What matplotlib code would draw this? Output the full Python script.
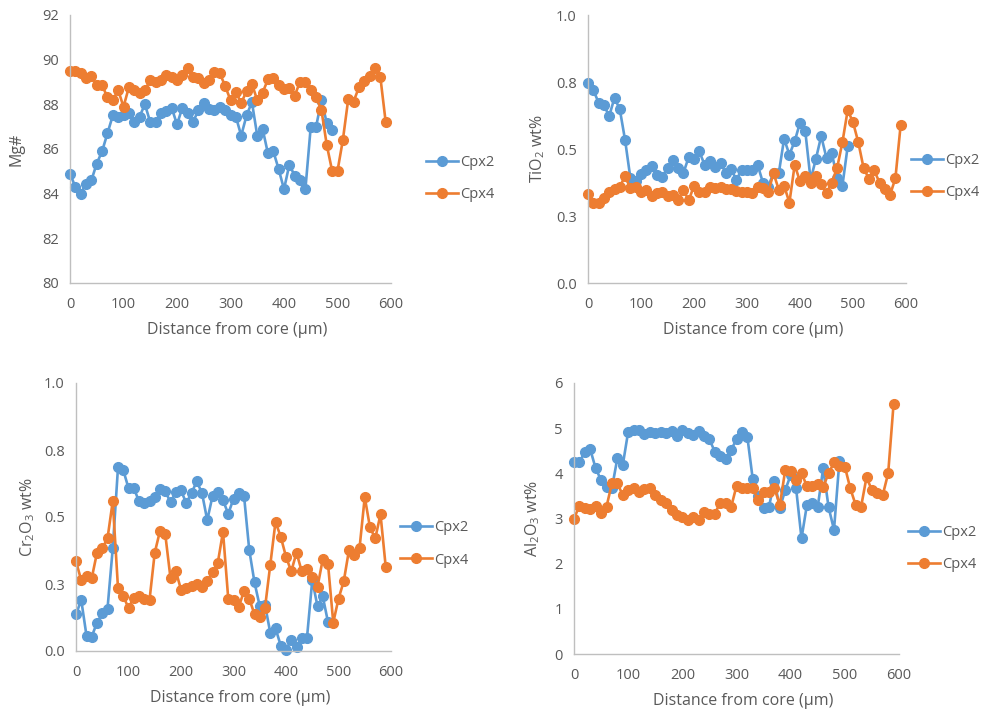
import numpy as np
import matplotlib
matplotlib.use("Agg")
import matplotlib.pyplot as plt

plt.rcParams['font.family'] = ['Open Sans', 'DejaVu Sans']
plt.rcParams['mathtext.fontset'] = 'custom'
plt.rcParams['mathtext.rm'] = 'Open Sans'
plt.rcParams['mathtext.it'] = 'Open Sans'

# distance step between analyses (µm)
step = 10

# Mg#
mg_cpx2 = [84.9, 84.3, 84.0, 84.45, 84.6, 85.35, 85.9, 86.7, 87.5, 87.45,
           87.5, 87.6, 87.2, 87.45, 88.0, 87.2, 87.2, 87.6, 87.7, 87.85,
           87.1, 87.85, 87.6, 87.2, 87.75, 88.05, 87.8, 87.75, 87.9, 87.75,
           87.5, 87.45, 86.6, 87.5, 88.1, 86.6, 86.9, 85.8, 85.9, 85.1,
           84.2, 85.3, 84.8, 84.6, 84.2, 87.0, 87.0, 88.2, 87.15, 86.85]
mg_cpx4 = [89.51, 89.51, 89.42, 89.16, 89.27, 88.86, 88.86, 88.31, 88.19, 88.64,
           87.89, 88.76, 88.64, 88.52, 88.64, 89.09, 89.01, 89.09, 89.31, 89.21,
           89.09, 89.31, 89.61, 89.24, 89.16, 88.94, 89.09, 89.46, 89.39, 88.82,
           88.19, 88.57, 88.04, 88.61, 88.91, 88.19, 88.52, 89.12, 89.16, 88.86,
           88.67, 88.71, 88.39, 89.01, 89.01, 88.64, 88.31, 87.74, 86.17, 85.02,
           85.02, 86.40, 88.22, 88.12, 88.76, 89.06, 89.27, 89.61, 89.24, 87.22]

# TiO2 wt%
ti_cpx2 = [0.745, 0.72, 0.673, 0.663, 0.623, 0.691, 0.648, 0.533, 0.391, 0.38,
           0.408, 0.423, 0.438, 0.404, 0.395, 0.429, 0.458, 0.429, 0.41, 0.47,
           0.463, 0.491, 0.441, 0.454, 0.433, 0.448, 0.41, 0.425, 0.385, 0.423,
           0.423, 0.42, 0.441, 0.375, 0.36, 0.41, 0.41, 0.538, 0.479, 0.529,
           0.598, 0.566, 0.385, 0.463, 0.548, 0.466, 0.485, 0.391, 0.363, 0.51]
ti_cpx4 = [0.333, 0.298, 0.3, 0.316, 0.341, 0.35, 0.36, 0.398, 0.354, 0.358,
           0.338, 0.348, 0.325, 0.335, 0.341, 0.325, 0.329, 0.31, 0.348, 0.308,
           0.363, 0.338, 0.341, 0.36, 0.354, 0.36, 0.35, 0.35, 0.345, 0.338,
           0.338, 0.335, 0.36, 0.354, 0.338, 0.41, 0.348, 0.363, 0.3, 0.441,
           0.379, 0.398, 0.375, 0.398, 0.37, 0.335, 0.375, 0.429, 0.525, 0.645,
           0.6, 0.525, 0.429, 0.389, 0.42, 0.375, 0.35, 0.329, 0.391, 0.591]

# Cr2O3 wt%
cr_cpx2 = [0.137, 0.19, 0.057, 0.054, 0.106, 0.14, 0.158, 0.383, 0.685, 0.675,
           0.608, 0.608, 0.559, 0.552, 0.559, 0.574, 0.605, 0.596, 0.555, 0.592,
           0.599, 0.552, 0.589, 0.633, 0.589, 0.488, 0.578, 0.592, 0.562, 0.512,
           0.568, 0.589, 0.58, 0.377, 0.256, 0.167, 0.172, 0.069, 0.085, 0.02,
           0.005, 0.042, 0.015, 0.05, 0.05, 0.264, 0.167, 0.204, 0.108]
cr_cpx4 = [0.334, 0.264, 0.281, 0.272, 0.367, 0.383, 0.42, 0.559, 0.235, 0.204,
           0.161, 0.198, 0.207, 0.195, 0.19, 0.367, 0.448, 0.436, 0.272, 0.3,
           0.229, 0.235, 0.244, 0.251, 0.239, 0.26, 0.293, 0.328, 0.445, 0.195,
           0.192, 0.165, 0.223, 0.195, 0.137, 0.128, 0.161, 0.321, 0.482, 0.426,
           0.352, 0.297, 0.367, 0.297, 0.305, 0.276, 0.239, 0.342, 0.325, 0.106,
           0.195, 0.26, 0.377, 0.358, 0.383, 0.574, 0.461, 0.42, 0.51, 0.313]

# Al2O3 wt%
al_cpx2 = [4.24, 4.24, 4.48, 4.53, 4.11, 3.85, 3.70, 3.67, 4.33, 4.18,
           4.92, 4.96, 4.96, 4.87, 4.92, 4.90, 4.92, 4.90, 4.94, 4.83,
           4.96, 4.89, 4.85, 4.94, 4.83, 4.75, 4.48, 4.38, 4.31, 4.52,
           4.75, 4.92, 4.81, 3.87, 3.50, 3.23, 3.26, 3.84, 3.23, 3.63,
           3.96, 3.67, 2.56, 3.30, 3.34, 3.26, 4.11, 3.25, 2.75, 4.28]
al_cpx4 = [3.00, 3.28, 3.23, 3.20, 3.28, 3.13, 3.26, 3.78, 3.78, 3.52,
           3.63, 3.67, 3.59, 3.65, 3.67, 3.52, 3.41, 3.35, 3.19, 3.08,
           3.04, 2.97, 3.04, 2.97, 3.15, 3.11, 3.11, 3.35, 3.35, 3.25,
           3.72, 3.67, 3.67, 3.67, 3.41, 3.59, 3.59, 3.67, 3.30, 4.07,
           4.06, 3.85, 4.00, 3.72, 3.72, 3.76, 3.70, 4.00, 4.24, 4.16,
           4.15, 3.67, 3.30, 3.26, 3.91, 3.63, 3.57, 3.52, 4.00, 5.54]

x_ticks = [0, 100, 200, 300, 400, 500, 600]
frac_ticks = [0, 0.25, 0.5, 0.75, 1.0]
frac_labels = ['0.0', '0.3', '0.5', '0.8', '1.0']

blue = '#5B9BD5'
orange = '#ED7D31'
grey_text = '#595959'
grey_axis = '#BFBFBF'

W, H = 1006, 712
fig = plt.figure(figsize=(W / 100, H / 100), dpi=100)


def px_axes(left, right, top, bottom):
    return fig.add_axes([left / W, 1 - bottom / H, (right - left) / W, (bottom - top) / H])


panels = [
    # (box, cpx2, cpx4, ylim, yticks, yticklabels, ylabel, ylabel_x, legend_xy)
    ((70, 391, 15, 283), mg_cpx2, mg_cpx4, (80, 92), [80, 82, 84, 86, 88, 90, 92], None,
     'Mg#', -0.143, (426, 155)),
    ((588, 906, 15, 283), ti_cpx2, ti_cpx4, (0, 1), frac_ticks, frac_labels,
     r'TiO$_2$ wt%', -0.129, (911, 153)),
    ((76, 391, 383, 651), cr_cpx2, cr_cpx4, (0, 1), frac_ticks, frac_labels,
     r'Cr$_2$O$_3$ wt%', -0.124, (400, 520)),
    ((574, 899, 383, 654), al_cpx2, al_cpx4, (0, 6), [0, 1, 2, 3, 4, 5, 6], None,
     r'Al$_2$O$_3$ wt%', -0.098, (908, 525)),
]

for box, s2, s4, ylim, yt, ytl, ylab, ylx, leg in panels:
    ax = px_axes(*box)
    x2 = np.arange(len(s2)) * step
    x4 = np.arange(len(s4)) * step
    ax.plot(x2, s2, '-o', color=blue, lw=1.9, ms=7, label='Cpx2', clip_on=False)
    ax.plot(x4, s4, '-o', color=orange, lw=1.9, ms=7, label='Cpx4', clip_on=False)
    ax.set_xlim(0, 600)
    ax.set_ylim(*ylim)
    ax.set_xticks(x_ticks)
    ax.set_yticks(yt)
    if ytl is not None:
        ax.set_yticklabels(ytl)
    for sp in ['top', 'right']:
        ax.spines[sp].set_visible(False)
    for sp in ['left', 'bottom']:
        ax.spines[sp].set_color(grey_axis)
        ax.spines[sp].set_linewidth(1.0)
    ax.tick_params(length=0, labelsize=10.5, labelcolor=grey_text)
    ax.tick_params(axis='x', pad=10)
    ax.tick_params(axis='y', pad=8)
    ax.set_xlabel('Distance from core (µm)', fontsize=11.5, color=grey_text)
    ax.xaxis.set_label_coords(0.52, -0.145)
    ax.set_ylabel(ylab, fontsize=11.5, color=grey_text)
    ax.yaxis.set_label_coords(ylx, 0.5)
    ax.legend(loc='upper left', bbox_to_anchor=(leg[0] / W, 1 - leg[1] / H),
              bbox_transform=fig.transFigure, frameon=False, fontsize=10.5,
              labelcolor=grey_text, handlelength=2.2, handletextpad=0.15,
              labelspacing=1.2, borderpad=0, borderaxespad=0, markerscale=1.0)

fig.savefig('out.png', dpi=100, facecolor='white')
